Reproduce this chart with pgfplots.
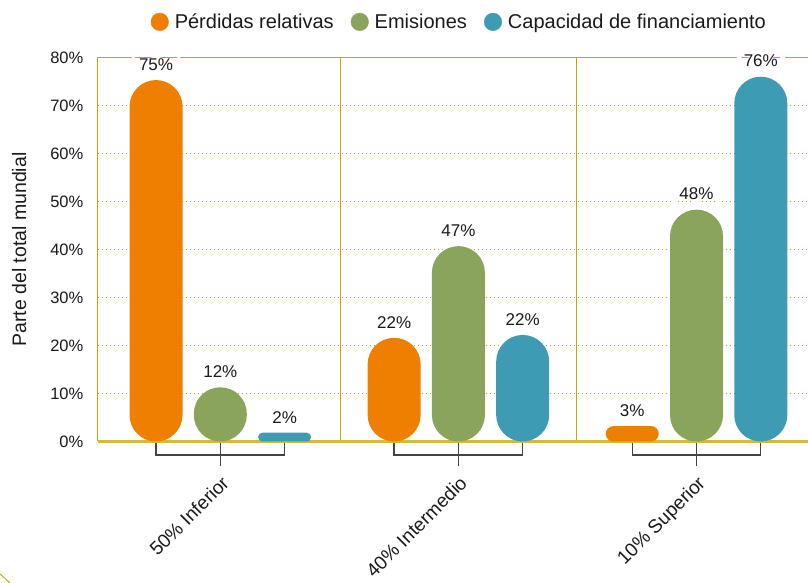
\documentclass[border=0pt]{standalone}
\usepackage{fontspec}
\setmainfont{Liberation Sans}
\usepackage{pgfplots}
\pgfplotsset{compat=1.18}
\definecolor{cOr}{RGB}{239,127,0}
\definecolor{cGr}{RGB}{138,164,92}
\definecolor{cTe}{RGB}{62,155,180}
\definecolor{gold}{RGB}{204,166,0}
\definecolor{goldgrid}{RGB}{200,160,0}
\definecolor{goldb}{RGB}{212,184,64}
\definecolor{brk}{RGB}{68,68,68}
\definecolor{txt}{RGB}{26,26,26}
\pgfplotsset{
  pill/.style 2 args={ybar, bar width=53pt, bar shift=0pt, draw=none, fill=#1,
    rounded corners=#2, forget plot,
    nodes near coords, point meta=explicit symbolic,
    nodes near coords style={font=\fontsize{17}{20}\selectfont, text=txt,
      fill=white, anchor=south, inner ysep=2pt, inner xsep=7pt, yshift=7.4pt}},
  brack/.style={brk, line width=1.3pt, mark=none, forget plot},
}
\begin{document}
\begin{tikzpicture}
\useasboundingbox (0,0) rectangle (808pt,583pt);
\begin{axis}[
  at={(97.5pt,141.5pt)}, anchor=south west,
  scale only axis, width=710.5pt, height=384pt,
  xmin=-0.5158, xmax=2.4683, ymin=0, ymax=80,
  axis line style={draw=none},
  clip=false,
  xtick={0,1,2},
  xticklabels={50\% Inferior, 40\% Intermedio, 10\% Superior},
  xticklabel style={yshift=-33pt, rotate=45, anchor=north east, inner sep=0pt,
    font=\fontsize{19}{21}\selectfont, text=txt},
  ytick={0,10,...,80},
  yticklabel={\pgfmathprintnumber{\tick}\%},
  yticklabel style={anchor=east, inner sep=0pt, xshift=-14pt,
    font=\fontsize{16.5}{20}\selectfont, text=txt},
  /pgf/number format/assume math mode=true,
  major tick length=0pt,
  ymajorgrids,
  grid style={goldgrid, line width=1.5pt, dash pattern=on 1.5pt off 2.5pt},
  every axis y label/.style={at={(axis description cs:-0.1102,0.5)}, rotate=90, anchor=center},
  ylabel={Parte del total mundial},
  ylabel style={font=\fontsize{19.5}{22}\selectfont, text=txt},
  legend columns=3,
  legend style={at={(rel axis cs:0.51,1.0928)}, anchor=center, draw=none, fill=none,
    font=\fontsize{20}{24}\selectfont, text=txt,
    nodes={inner xsep=3pt, inner ysep=2pt},
    /tikz/every odd column/.append style={column sep=3pt},
    /tikz/every even column/.append style={column sep=14pt}},
]
% frame
\draw[gold, line width=1.4pt] (axis cs:-0.5158,0) -- (axis cs:-0.5158,80) -- (axis cs:2.4683,80);
\draw[gold, line width=1.4pt] (axis cs:0.5048,0) -- (axis cs:0.5048,80);
\draw[gold, line width=1.4pt] (axis cs:1.4960,0) -- (axis cs:1.4960,80);
\draw[goldb, line width=2.4pt] (axis cs:-0.5158,0) -- (axis cs:2.4683,0);

\addlegendimage{legend image code/.code={\fill[cOr] (0pt,0pt) circle (8.8pt);}}
\addlegendentry{Pérdidas relativas}
\addlegendimage{legend image code/.code={\fill[cGr] (0pt,0pt) circle (8.8pt);}}
\addlegendentry{Emisiones}
\addlegendimage{legend image code/.code={\fill[cTe] (0pt,0pt) circle (8.8pt);}}
\addlegendentry{Capacidad de financiamiento}

% 50% Inferior
\addplot[pill={cOr}{26.5pt}] coordinates {(-0.27,75.3) [75\%]};
\addplot[pill={cGr}{26.5pt}] coordinates {(0,11.3) [12\%]};
\addplot[pill={cTe}{4.4pt}] coordinates {(0.27,1.83) [2\%]};
% 40% Intermedio
\addplot[pill={cOr}{26.5pt}] coordinates {(0.73,21.6) [22\%]};
\addplot[pill={cGr}{26.5pt}] coordinates {(1,40.7) [47\%]};
\addplot[pill={cTe}{26.5pt}] coordinates {(1.27,22.2) [22\%]};
% 10% Superior
\addplot[pill={cOr}{7.7pt}] coordinates {(1.73,3.2) [3\%]};
\addplot[pill={cGr}{26.5pt}] coordinates {(2,48.3) [48\%]};
\addplot[pill={cTe}{26.5pt}] coordinates {(2.27,76.0) [76\%]};

% brackets
\addplot[brack] coordinates {(-0.27,-0.4) (-0.27,-2.81) (0.27,-2.81) (0.27,-0.4)};
\addplot[brack] coordinates {(0,-0.4) (0,-5.1)};
\addplot[brack] coordinates {(0.73,-0.4) (0.73,-2.81) (1.27,-2.81) (1.27,-0.4)};
\addplot[brack] coordinates {(1,-0.4) (1,-5.1)};
\addplot[brack] coordinates {(1.73,-0.4) (1.73,-2.81) (2.27,-2.81) (2.27,-0.4)};
\addplot[brack] coordinates {(2,-0.4) (2,-5.1)};
\end{axis}
\draw[gold, line width=1pt] (0pt,9pt) -- (10pt,0pt);
\end{tikzpicture}
\end{document}
